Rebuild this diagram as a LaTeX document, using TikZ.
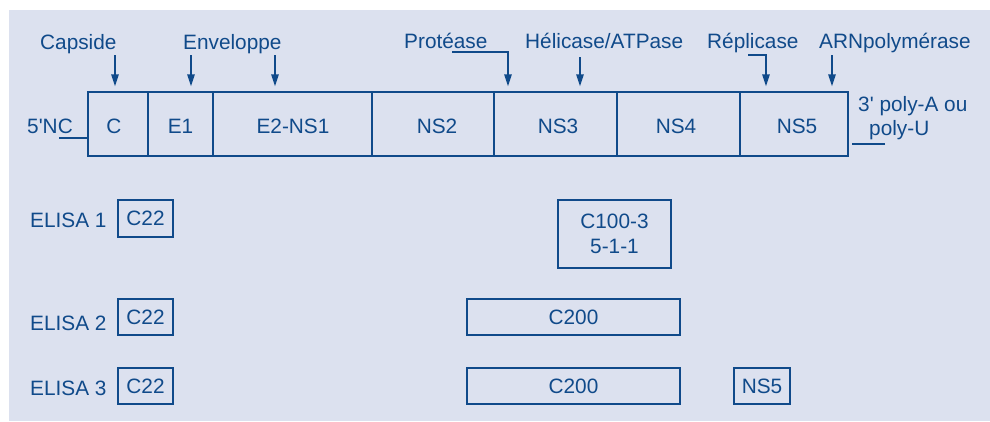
\documentclass[tikz,border=0pt]{standalone}
\usepackage{fontspec}
\setmainfont{Liberation Sans}
\usetikzlibrary{arrows.meta}
\definecolor{ink}{RGB}{16,74,138}
\definecolor{bgc}{RGB}{220,225,239}
\tikzset{
  seg/.style={draw=ink, line width=1.4pt, inner sep=0pt, minimum height=64pt, text=ink},
  tbox/.style={draw=ink, line width=1.4pt, inner sep=0pt, text=ink, align=center},
  lbl/.style={text=ink, inner sep=0pt, anchor=base west},
  arr/.style={draw=ink, line width=1.4pt, -{Triangle[length=12pt,width=7.5pt]}, shorten >=5pt},
  ln/.style={draw=ink, line width=1.4pt}
}
\begin{document}
\begin{tikzpicture}[x=1pt,y=-1pt,font=\fontsize{20.8}{25}\selectfont]
\useasboundingbox (0,0) rectangle (990,421);
\fill[bgc] (9,10) rectangle (990,421);
% main genome bar
\node[seg, minimum width=60pt]  (sC)  at (118,124) {};
\node[seg, minimum width=65pt]  (sE1) at (180.5,124) {};
\node[seg, minimum width=159pt] (sE2) at (292.5,124) {};
\node[seg, minimum width=122pt] (sN2) at (433,124) {};
\node[seg, minimum width=123pt] (sN3) at (555.5,124) {};
\node[seg, minimum width=123pt] (sN4) at (678.5,124) {};
\node[seg, minimum width=108pt] (sN5) at (794,124) {};
\node[lbl, anchor=base] (tC)  at (114,133.5) {C};
\node[lbl, anchor=base] (tE1) at (180.5,133.5) {E1};
\node[lbl, anchor=base] (tE2) at (293,133.5) {E2-NS1};
\node[lbl, anchor=base] (tN2) at (437,133.5) {NS2};
\node[lbl, anchor=base] (tN3) at (558,133.5) {NS3};
\node[lbl, anchor=base] (tN4) at (676,133.5) {NS4};
\node[lbl, anchor=base] (tN5) at (797,133.5) {NS5};
% ends
\node[lbl] (nc5) at (27,133) {5\textquotesingle NC};
\node[lbl] (nc3a) at (858,111) {3\textquotesingle{} poly-A ou};
\node[lbl] (nc3b) at (869,135) {poly-U};
\coordinate (l5) at (59,138);
\draw[ln] (l5) -- (l5 -| sC.west);
\coordinate (l3) at (885,144);
\draw[ln, shorten >=3pt] (l3) -- (l3 -| sN5.east);
% function labels
\node[lbl] (capside) at (40,49) {Capside};
\node[lbl] (envel) at (183,49) {Enveloppe};
\node[lbl] (prot) at (404,48) {Protéase};
\node[lbl] (heli) at (525,48) {Hélicase/ATPase};
\node[lbl] (repl) at (707,48) {Réplicase};
\node[lbl] (arnp) at (819,48) {ARNpolymérase};
% arrows
\coordinate (a1) at (115,55);
\coordinate (a2) at (191,55);
\coordinate (a3) at (275,55);
\coordinate (a4) at (452,52);
\coordinate (a4x) at (508,52);
\coordinate (a5) at (580,57);
\coordinate (a6) at (748,55);
\coordinate (a6x) at (766,55);
\coordinate (a7) at (832,55);
\draw[arr] (a1) -- (a1 |- sC.north);
\draw[arr] (a2) -- (a2 |- sE1.north);
\draw[arr] (a3) -- (a3 |- sE2.north);
\draw[arr] (a4) -- (a4x) -- (a4x |- sN3.north);
\draw[arr] (a5) -- (a5 |- sN3.north);
\draw[arr] (a6) -- (a6x) -- (a6x |- sN5.north);
\draw[arr] (a7) -- (a7 |- sN5.north);
% ELISA rows
\node[lbl] (el1) at (30,227) {ELISA 1};
\node[lbl] (el2) at (30,330) {ELISA 2};
\node[lbl] (el3) at (30,395) {ELISA 3};
\node[tbox, minimum width=55pt, minimum height=37pt] (c22a) at (145.5,218.5) {C22};
\node[tbox, minimum width=55pt, minimum height=36pt] (c22b) at (145.5,317) {C22};
\node[tbox, minimum width=55pt, minimum height=36pt] (c22c) at (145.5,386) {C22};
\node[tbox, minimum width=113pt, minimum height=68pt] (c100) at (614.5,234) {C100-3\\5-1-1};
\node[tbox, minimum width=213pt, minimum height=36pt] (c200a) at (573.5,317) {C200};
\node[tbox, minimum width=213pt, minimum height=36pt] (c200b) at (573.5,386) {C200};
\node[tbox, minimum width=56pt, minimum height=36pt] (ns5b) at (762,386) {NS5};
\end{tikzpicture}
\end{document}
